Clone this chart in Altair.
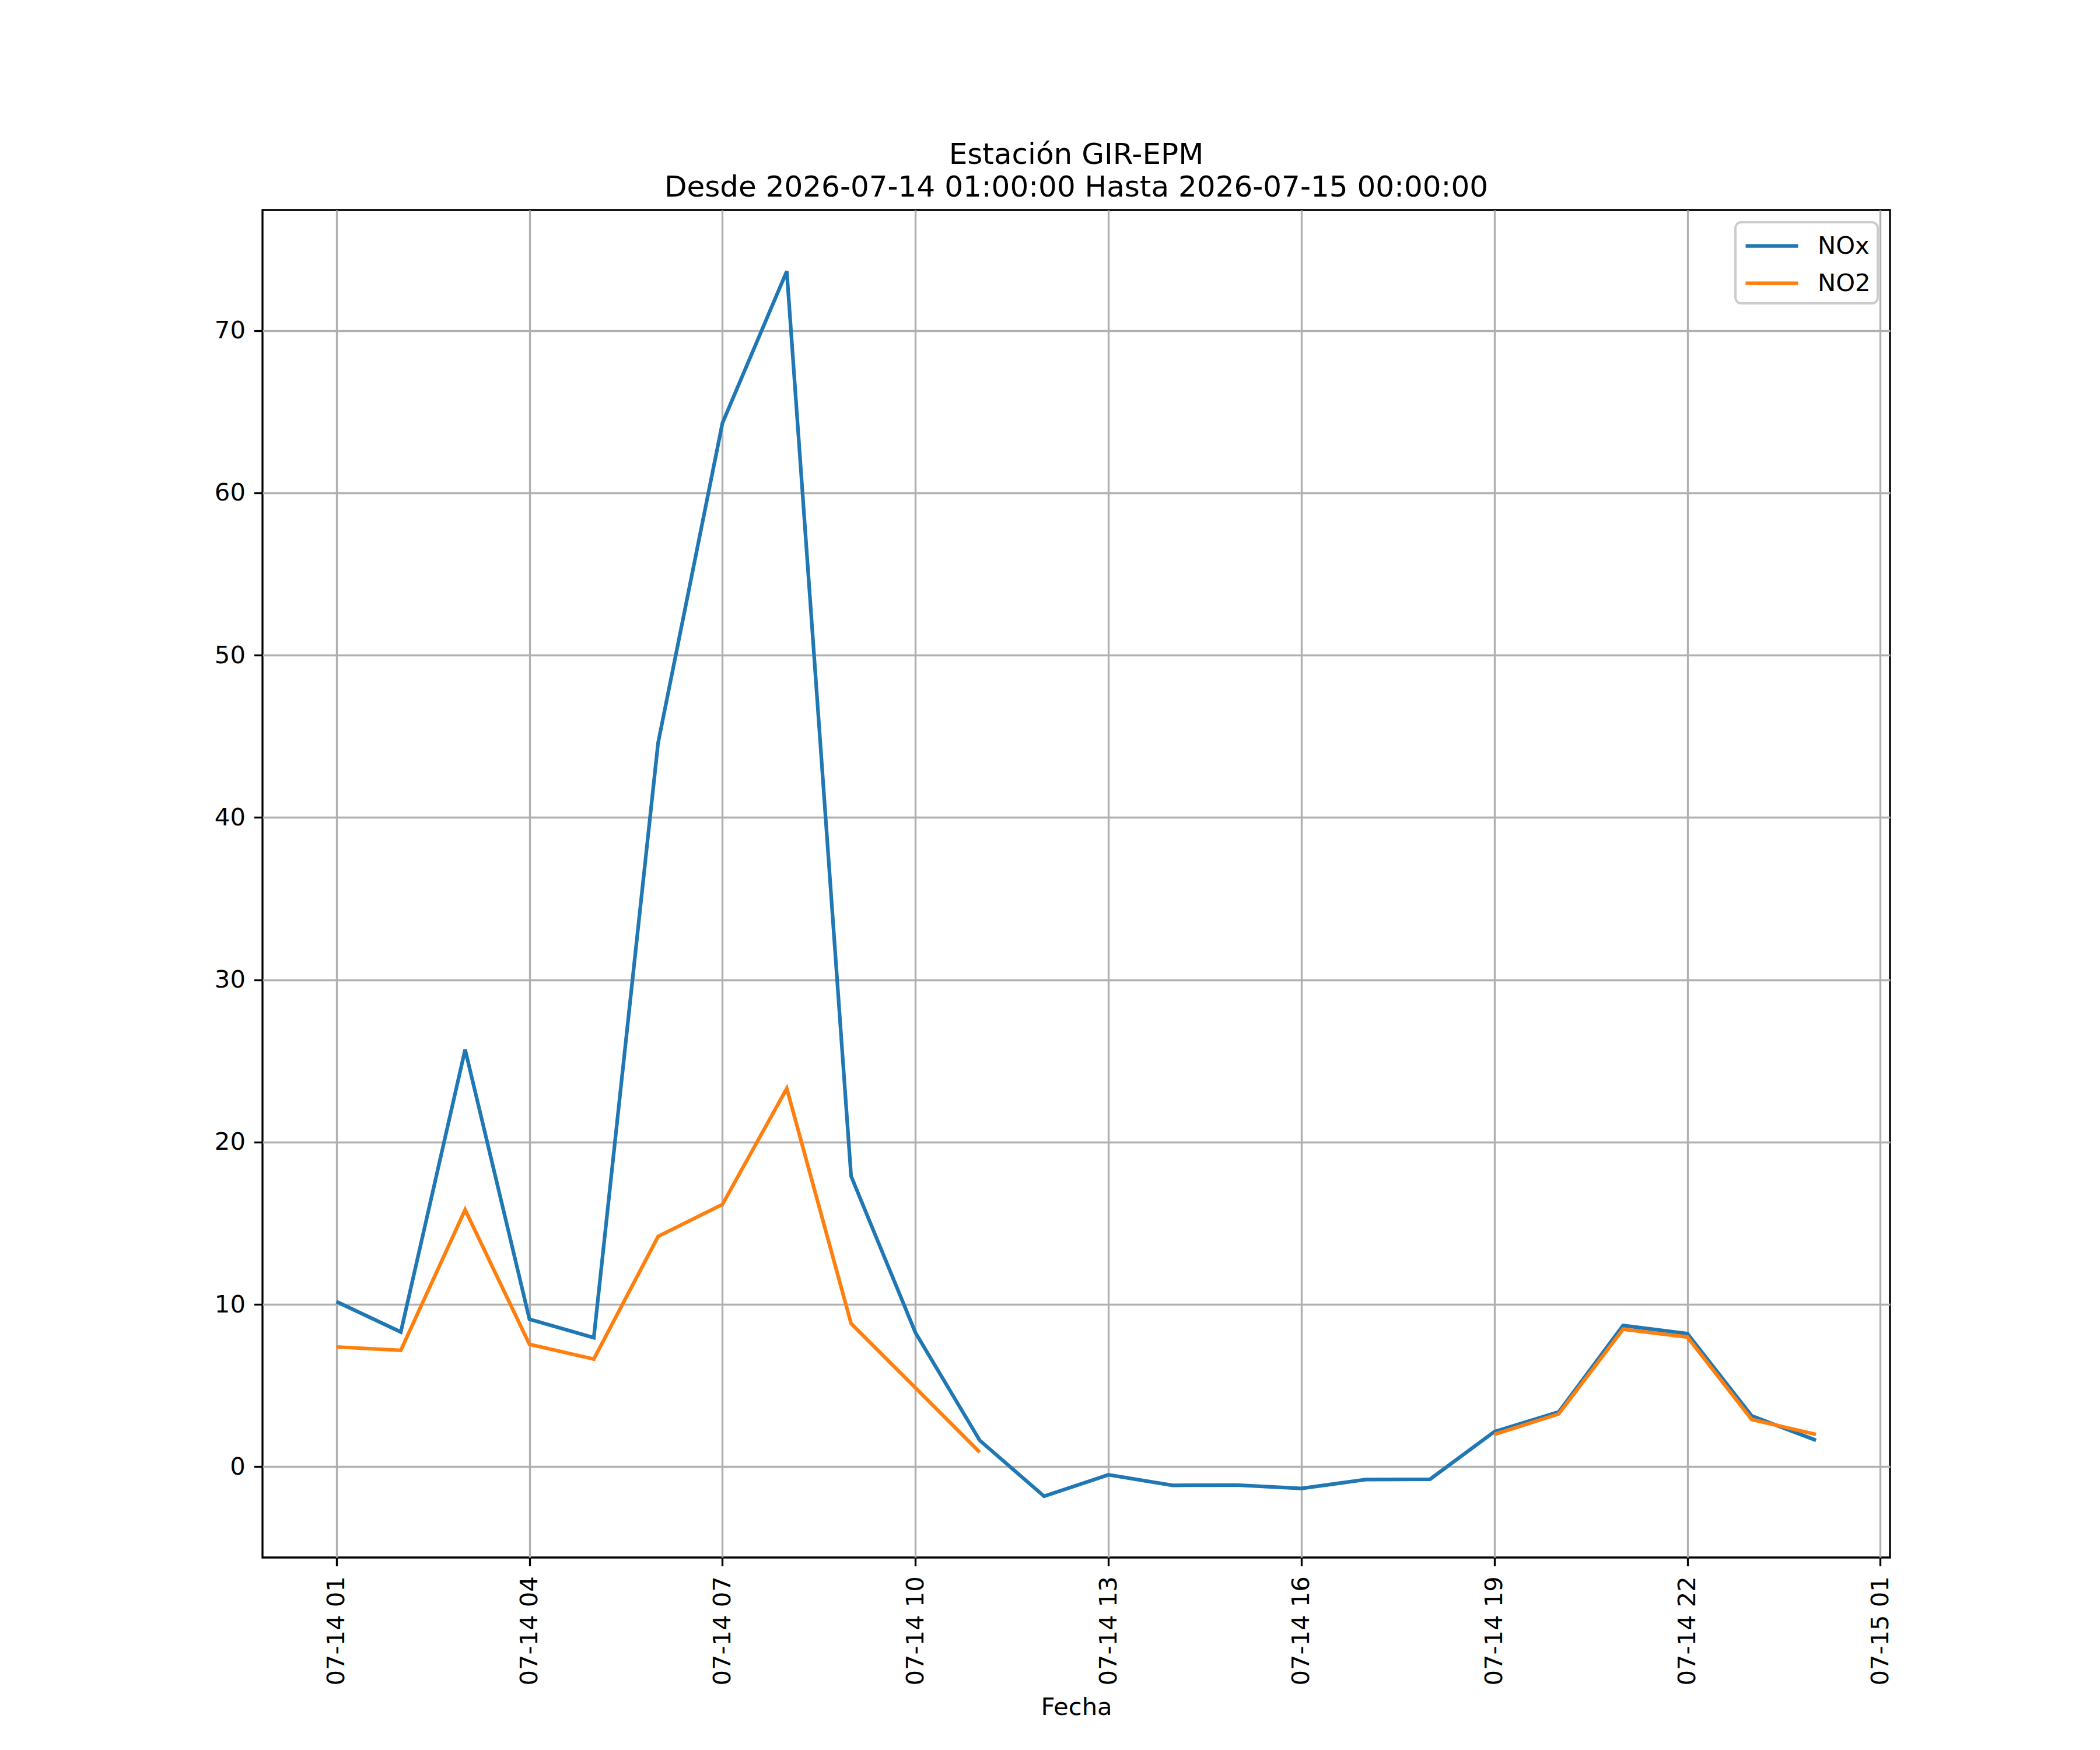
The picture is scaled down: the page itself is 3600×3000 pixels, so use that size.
import altair as alt
import pandas as pd

# horas de medición (UTC para que no dependa de la zona del navegador)
horas = ["2026-07-14T%02d:00:00Z" % h for h in range(1, 24)] + ["2026-07-15T00:00:00Z"]

nox = [10.17, 8.30, 25.70, 9.09, 7.95, 44.60, 64.30, 73.65, 17.90, 8.26, 1.62,
       -1.82, -0.50, -1.15, -1.13, -1.34, -0.79, -0.77,
       2.16, 3.37, 8.70, 8.20, 3.13, 1.63]
no2 = [7.38, 7.17, 15.83, 7.54, 6.63, 14.19, 16.16, 23.30, 8.82, 4.86, 0.89,
       None, None, None, None, None, None, None,
       1.99, 3.25, 8.47, 7.99, 2.91, 1.99]

series = ["NOx", "NO2"]
colores = ["#1f77b4", "#ff7f0e"]

tick_x = [(14, 1), (14, 4), (14, 7), (14, 10), (14, 13), (14, 16), (14, 19), (14, 22), (15, 1)]
tick_y = [0, 10, 20, 30, 40, 50, 60, 70]

titulo = ["Estación GIR-EPM", "Desde 2026-07-14 01:00:00 Hasta 2026-07-15 00:00:00"]

df = pd.concat([
    pd.DataFrame({"fecha": horas, "valor": nox, "serie": "NOx"}),
    pd.DataFrame({"fecha": horas, "valor": no2, "serie": "NO2"}),
])

# margen del 5% como matplotlib (23 h -> 69 min a cada lado)
validos = [v for v in nox + no2 if v is not None]
lo, hi = min(validos), max(validos)
y_dom = [lo - 0.05 * (hi - lo), hi + 0.05 * (hi - lo)]
x_dom = [alt.DateTime(year=2026, month=7, date=13, hours=23, minutes=51, utc=True),
         alt.DateTime(year=2026, month=7, date=15, hours=1, minutes=9, utc=True)]

FONT = "DejaVu Sans"
FS = 41.7

chart = alt.Chart(df).mark_line(
    strokeWidth=6.25, invalid="break-paths-filter-domains"
).encode(
    x=alt.X("fecha:T",
            scale=alt.Scale(type="utc", domain=x_dom, nice=False),
            axis=alt.Axis(title="Fecha",
                          values=[alt.DateTime(year=2026, month=7, date=d, hours=h, utc=True) for d, h in tick_x],
                          labelExpr="utcFormat(datum.value, '%m-%d %H')",
                          labelAngle=-90, labelPadding=17, labelLimit=1000, titlePadding=36)),
    y=alt.Y("valor:Q",
            scale=alt.Scale(domain=y_dom, nice=False, zero=False),
            axis=alt.Axis(title=None, values=tick_y, labelPadding=15)),
    color=alt.Color("serie:N",
                    scale=alt.Scale(domain=series, range=colores),
                    legend=alt.Legend(title=None, orient="top-right", offset=21,
                                      fillColor="white", strokeColor="#cccccc",
                                      padding=12, cornerRadius=10,
                                      symbolType="M-1.8,0H1.8", symbolSize=2500,
                                      symbolStrokeWidth=6.25, symbolOffset=22,
                                      labelOffset=50, rowPadding=13,
                                      labelFont=FONT, labelFontSize=FS, labelColor="black")),
).properties(
    width=2790,
    height=2310,
    autosize=alt.AutoSizeParams(type="none"),
    padding={"left": 442, "top": 352, "right": 352, "bottom": 322},
    background="white",
    title=alt.Title(titulo, font=FONT, fontSize=50, fontWeight="normal", color="black",
                    anchor="middle", offset=13, lineHeight=56),
).configure_view(
    stroke="black", strokeWidth=3.33
).configure_axis(
    domain=False,
    grid=True, gridColor="#b0b0b0", gridWidth=3.33,
    tickColor="black", tickWidth=3.33, tickSize=14.6,
    labelFont=FONT, labelFontSize=FS, labelColor="black",
    titleFont=FONT, titleFontSize=FS, titleFontWeight="normal", titleColor="black",
).configure_legend(
    strokeWidth=4
)

chart.save("out.html", embed_options={"renderer": "svg", "actions": False})
